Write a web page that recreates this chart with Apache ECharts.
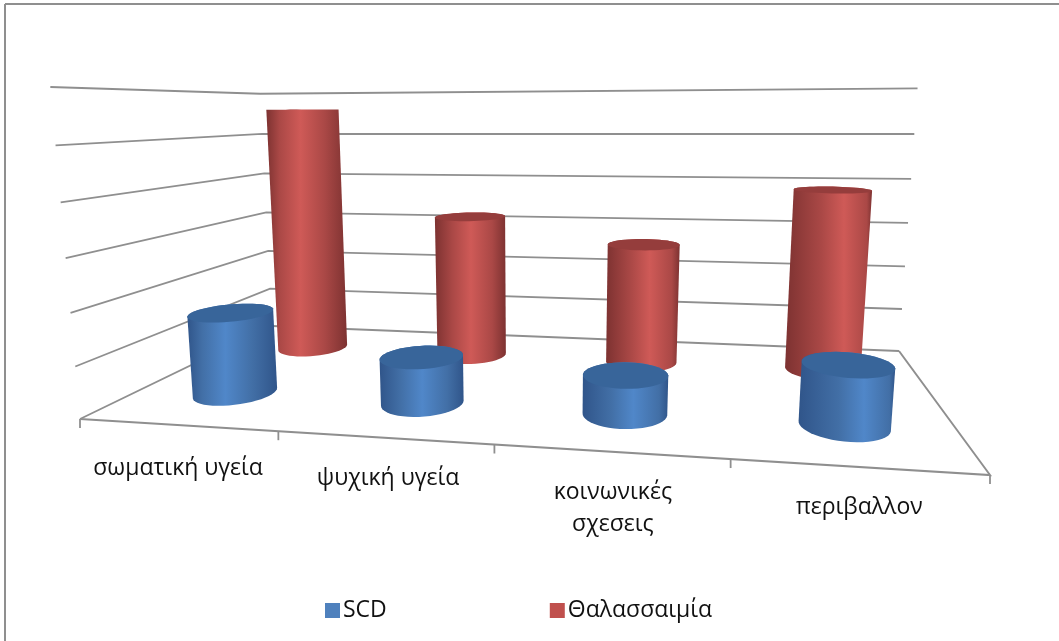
<!DOCTYPE html>
<html>
<head>
<meta charset="utf-8">
<style>html,body{margin:0;padding:0;background:#fff}#chart{width:1059px;height:641px}</style>
<script src="https://cdn.jsdelivr.net/npm/echarts@6/dist/echarts.min.js"></script>
</head>
<body>
<div id="chart"></div>
<script>
// Chart data
const categories = ['σωματική υγεία', 'ψυχική υγεία', 'κοινωνικές\nσχεσεις', 'περιβαλλον'];
const scdValues = [16.4, 9.1, 7.4, 11.2];
const thalValues = [56, 32, 26.5, 38.9];
const wallTicks = [0, 10, 20, 30, 40, 50, 60];
const seriesNames = ['SCD', 'Θαλασσαιμία'];

// Perspective box: floor corners in order front-left, front-right, back-right, back-left,
// the point upright edges converge to, and the screen y of the front-left edge's top end
const FLOOR = [[80, 419], [990, 475], [899, 351], [272, 326]];
const VANISH = [535, 5511];
const FRONT_TOP_Y = 87;
const ROW_DEPTH = { front: 0.265, back: 0.75 };
const ROW_SHIFT = 0.003;
const RADIUS_S = 0.05;
const RADIUS_D = 0.115;
const LINE = '#8f8f8f';
const LABEL_FONT = '"Open Sans", "Noto Sans", sans-serif';
const LABEL_NUDGE = [[1, 43], [4, 41], [3, 57], [2, 41]];

// Homogeneous map from the unit floor square to the screen
function floorMap(q) {
  const [[x0, y0], [x1, y1], [x2, y2], [x3, y3]] = q;
  const dx1 = x1 - x2, dx2 = x3 - x2, sx = x0 - x1 + x2 - x3;
  const dy1 = y1 - y2, dy2 = y3 - y2, sy = y0 - y1 + y2 - y3;
  const den = dx1 * dy2 - dx2 * dy1;
  const g = (sx * dy2 - dx2 * sy) / den, h = (dx1 * sy - sx * dy1) / den;
  const a = x1 - x0 + g * x1, b = x3 - x0 + h * x3, d = y1 - y0 + g * y1, e = y3 - y0 + h * y3;
  return (u, v) => [a * u + b * v + x0, d * u + e * v + y0, g * u + h * v + 1];
}
const floorAt = floorMap(FLOOR);
const lift = (() => {
  const k = (FRONT_TOP_Y - FLOOR[0][1]) / (VANISH[1] - FLOOR[0][1]);
  return k / (1 - k);
})();

// Maps box coordinates (across, depth, height), all in 0..1, to the screen
function project(s, d, t) {
  const [nx, ny, w] = floorAt(s, d);
  const a = t * lift;
  return [(nx + a * VANISH[0]) / (w + a), (ny + a * VANISH[1]) / (w + a)];
}

// Reads the library's scales and returns normalised box coordinates for a data pair
function toBox(params, api, cat, val) {
  const c = api.coord([cat, val]);
  const r = params.coordSys;
  return [(c[0] - r.x) / r.width, (r.y + r.height - c[1]) / r.height];
}

function hull(points) {
  const pts = points.slice().sort((a, b) => a[0] - b[0] || a[1] - b[1]);
  const cross = (o, a, b) => (a[0] - o[0]) * (b[1] - o[1]) - (a[1] - o[1]) * (b[0] - o[0]);
  const lower = [], upper = [];
  for (const p of pts) {
    while (lower.length > 1 && cross(lower[lower.length - 2], lower[lower.length - 1], p) <= 0) lower.pop();
    lower.push(p);
  }
  for (const p of pts.slice().reverse()) {
    while (upper.length > 1 && cross(upper[upper.length - 2], upper[upper.length - 1], p) <= 0) upper.pop();
    upper.push(p);
  }
  return lower.slice(0, -1).concat(upper.slice(0, -1));
}

function cylinderRenderer(depth, palette) {
  return function (params, api) {
    const cat = api.value(0), val = api.value(1);
    const [s, t] = toBox(params, api, cat, val);
    const base = [], top = [];
    for (let i = 0; i < 48; i++) {
      const a = i / 48 * Math.PI * 2;
      const u = s + ROW_SHIFT + RADIUS_S * Math.cos(a), v = depth + RADIUS_D * Math.sin(a);
      base.push(project(u, v, 0));
      top.push(project(u, v, t));
    }
    const glow = 0.38 + s * 0.34;
    const fill = new echarts.graphic.LinearGradient(0, 0, 1, 0, [
      { offset: 0, color: palette.edge },
      { offset: Math.max(0.06, glow - 0.26), color: palette.mid },
      { offset: glow, color: palette.light },
      { offset: Math.min(0.94, glow + 0.3), color: palette.mid },
      { offset: 1, color: palette.edge }
    ]);
    return {
      type: 'group',
      children: [
        { type: 'polygon', shape: { points: hull(base.concat(top)) }, style: { fill: fill } },
        { type: 'polygon', shape: { points: top }, style: { fill: palette.cap } }
      ]
    };
  };
}

function wallRenderer(params, api) {
  const t = toBox(params, api, 0, api.value(0))[1];
  return {
    type: 'polyline',
    shape: { points: [project(0, 0, t), project(0, 1, t), project(1, 1, t)] },
    style: { stroke: LINE, lineWidth: 1.8, fill: 'none' }
  };
}

function floorRenderer(params, api) {
  const s = api.value(0) / categories.length;
  const p = project(s, 0, 0);
  const children = [{
    type: 'line',
    shape: { x1: p[0], y1: p[1], x2: p[0], y2: p[1] + 9 },
    style: { stroke: LINE, lineWidth: 1.8 }
  }];
  if (api.value(0) === 0) {
    children.push({
      type: 'polyline',
      shape: { points: [project(0, 0, 0), project(1, 0, 0), project(1, 1, 0)] },
      style: { stroke: LINE, lineWidth: 2, fill: 'none' }
    });
  }
  return { type: 'group', children: children };
}

function labelRenderer(params, api) {
  const i = api.value(0);
  const s = toBox(params, api, i, 0)[0];
  const p = project(s, 0, 0);
  return {
    type: 'text',
    x: p[0] + LABEL_NUDGE[i][0],
    y: p[1] + LABEL_NUDGE[i][1],
    style: {
      text: categories[i],
      fontFamily: LABEL_FONT,
      fontSize: 23,
      lineHeight: 32,
      fill: '#111',
      align: 'center',
      verticalAlign: 'middle'
    }
  };
}

const bluePalette = { edge: '#30558a', mid: '#426fa6', light: '#5087c9', cap: '#38659a' };
const redPalette = { edge: '#7d3231', mid: '#aa4846', light: '#cf5a57', cap: '#953d3c' };

const chart = echarts.init(document.getElementById('chart'), null, { renderer: 'canvas' });
chart.setOption({
  animation: false,
  backgroundColor: '#fff',
  grid: { left: 100, right: 100, top: 100, bottom: 100 },
  xAxis: { type: 'category', data: categories, show: false },
  yAxis: { type: 'value', min: 0, max: 60, interval: 10, show: false },
  legend: {
    data: seriesNames,
    left: 320,
    top: 594,
    icon: 'rect',
    itemWidth: 15,
    itemHeight: 15,
    itemGap: 163,
    textStyle: { fontFamily: LABEL_FONT, fontSize: 23, color: '#111', padding: [0, 0, 0, -2] }
  },
  graphic: [
    { type: 'line', shape: { x1: 5, y1: 4, x2: 1059, y2: 4 }, style: { stroke: LINE, lineWidth: 2 } },
    { type: 'line', shape: { x1: 5, y1: 4, x2: 5, y2: 641 }, style: { stroke: LINE, lineWidth: 2 } }
  ],
  series: [
    { type: 'custom', silent: true, z: 1, renderItem: wallRenderer, encode: { y: 0 },
      data: wallTicks.map(v => [v]) },
    { type: 'custom', silent: true, z: 1, renderItem: floorRenderer, encode: { x: 0 },
      data: [0, 1, 2, 3, 4].map(i => [i]) },
    { type: 'custom', name: seriesNames[1], z: 2, renderItem: cylinderRenderer(ROW_DEPTH.back, redPalette),
      itemStyle: { color: '#c0504d' }, encode: { x: 0, y: 1 },
      data: thalValues.map((v, i) => [i, v]) },
    { type: 'custom', name: seriesNames[0], z: 3, renderItem: cylinderRenderer(ROW_DEPTH.front, bluePalette),
      itemStyle: { color: '#4f81bd' }, encode: { x: 0, y: 1 },
      data: scdValues.map((v, i) => [i, v]) },
    { type: 'custom', silent: true, z: 4, renderItem: labelRenderer, encode: { x: 0 },
      data: categories.map((c, i) => [i]) }
  ]
});
</script>
</body>
</html>
